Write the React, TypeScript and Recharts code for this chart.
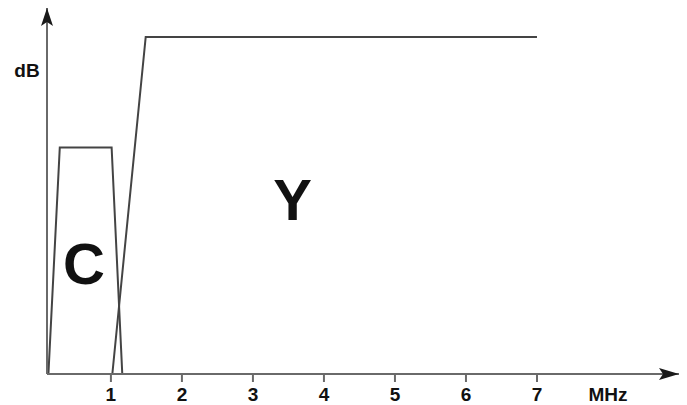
import { LineChart, Line, XAxis, YAxis, ReferenceDot } from 'recharts';

// x in MHz, y in dB (relative scale)
const chromaBand = [
  { x: 0.12, y: 0 },
  { x: 0.28, y: 6.72 },
  { x: 1.01, y: 6.72 },
  { x: 1.16, y: 0 },
];

const lumaBand = [
  { x: 1.02, y: 0 },
  { x: 1.49, y: 10 },
  { x: 7.0, y: 10 },
];

const xTicks = [1, 2, 3, 4, 5, 6, 7];

const bandLabels = [
  { name: 'C', x: 0.62, y: 3.3 },
  { name: 'Y', x: 3.56, y: 5.2 },
];

const FONT = '"Liberation Sans", Arial, sans-serif';
const INK = '#444';
const AXIS = '#6a6a6a';

const XArrow = (props: any) => {
  const { x, y, width } = props.viewBox;
  const tip = x + width;
  return (
    <g>
      <polygon points={`${tip},${y} ${tip - 20},${y - 6} ${tip - 16},${y} ${tip - 20},${y + 6}`} fill="#1a1a1a" />
      <text x={608} y={401} textAnchor="middle" fontFamily={FONT} fontWeight="bold" fontSize={19} fill="#111">
        MHz
      </text>
    </g>
  );
};

const YArrow = (props: any) => {
  const { x, y, width } = props.viewBox;
  const ax = x + width;
  return (
    <g>
      <polygon points={`${ax},${y} ${ax - 6},${y + 18} ${ax},${y + 14} ${ax + 6},${y + 18}`} fill="#1a1a1a" />
      <text x={27} y={77} textAnchor="middle" fontFamily={FONT} fontWeight="bold" fontSize={19} fill="#111">
        dB
      </text>
    </g>
  );
};

export default function App() {
  return (
    <div style={{ width: 687, height: 405, background: '#fff' }}>
      <style>{`body{margin:0}`}</style>
      <LineChart width={687} height={405} margin={{ top: 8, right: 8, bottom: 0, left: 0 }}>
        <XAxis
          type="number"
          dataKey="x"
          domain={[0.1, 9]}
          ticks={xTicks}
          height={31}
          tickSize={8}
          tickMargin={6}
          axisLine={{ stroke: AXIS, strokeWidth: 2 }}
          tickLine={{ stroke: AXIS, strokeWidth: 2 }}
          tick={{ fontFamily: FONT, fontWeight: 'bold', fontSize: 19, fill: '#111' }}
          allowDataOverflow
          label={<XArrow />}
        />
        <YAxis
          type="number"
          domain={[0, 10.86]}
          width={47}
          tick={false}
          tickLine={false}
          axisLine={{ stroke: AXIS, strokeWidth: 2 }}
          allowDataOverflow
          label={<YArrow />}
        />
        <Line
          data={chromaBand}
          dataKey="y"
          type="linear"
          stroke={INK}
          strokeWidth={2}
          dot={false}
          isAnimationActive={false}
        />
        <Line
          data={lumaBand}
          dataKey="y"
          type="linear"
          stroke={INK}
          strokeWidth={2}
          dot={false}
          isAnimationActive={false}
        />
        {bandLabels.map((b) => (
          <ReferenceDot
            key={b.name}
            x={b.x}
            y={b.y}
            r={0}
            shape={(p: any) => (
              <text
                x={p.cx}
                y={p.cy}
                dy="0.36em"
                textAnchor="middle"
                fontFamily={FONT}
                fontWeight="bold"
                fontSize={58}
                fill="#111"
              >
                {b.name}
              </text>
            )}
          />
        ))}
      </LineChart>
    </div>
  );
}
